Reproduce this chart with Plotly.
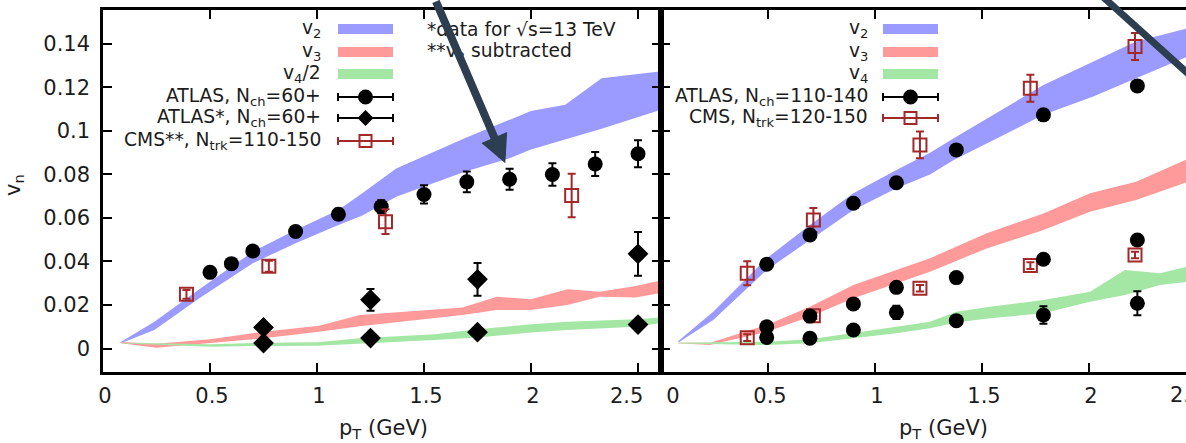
import plotly.graph_objects as go

W, H = 1186, 443

# ---------------- data: left panel ----------------
pt_v2L = [0.083, 0.24, 0.45, 0.70, 0.90, 1.10, 1.21, 1.37, 1.69, 1.90, 2.00, 2.16, 2.33, 2.60]
v2L_hi = [0.0030, 0.0123, 0.0272, 0.0445, 0.0545, 0.0637, 0.0712, 0.0828, 0.0966, 0.1050, 0.1092, 0.1120, 0.1242, 0.1273]
v2L_lo = [0.0024, 0.0085, 0.0231, 0.0392, 0.0484, 0.0568, 0.0610, 0.0698, 0.0813, 0.0874, 0.0915, 0.0962, 0.1010, 0.1095]

pt_v3L = [0.083, 0.25, 0.50, 0.75, 1.01, 1.20, 1.68, 1.84, 2.00, 2.17, 2.32, 2.49, 2.60]
v3L_hi = [0.0030, 0.0022, 0.0042, 0.0077, 0.0105, 0.0154, 0.0188, 0.0238, 0.0226, 0.0272, 0.0261, 0.0287, 0.0312]
v3L_lo = [0.0024, 0.0003, 0.0024, 0.0047, 0.0077, 0.0102, 0.0154, 0.0177, 0.0177, 0.0200, 0.0238, 0.0235, 0.0254]

pt_v4L = [0.083, 0.50, 0.745, 1.00, 1.20, 1.55, 1.75, 2.00, 2.17, 2.49, 2.60]
v4L_hi = [0.0027, 0.0020, 0.0026, 0.0029, 0.0047, 0.0065, 0.0088, 0.0111, 0.0123, 0.0134, 0.0143]
v4L_lo = [0.0024, 0.0008, 0.0012, 0.0013, 0.0021, 0.0039, 0.0051, 0.0073, 0.0085, 0.0100, 0.0116]

atlas_pt_L = [0.50, 0.60, 0.70, 0.90, 1.10, 1.30, 1.50, 1.70, 1.90, 2.10, 2.30, 2.50]
atlas_v2_L = [0.035, 0.039, 0.0448, 0.0538, 0.0617, 0.0652, 0.0708, 0.0766, 0.0778, 0.0800, 0.0848, 0.0895]
atlas_v2_L_err = [0.002, 0.002, 0.002, 0.002, 0.0025, 0.003, 0.0042, 0.0048, 0.0048, 0.0052, 0.0055, 0.0062]

atlas13_pt_L = [0.75, 1.25, 1.75, 2.50]
atlas13_v3_L = [0.0097, 0.0224, 0.0318, 0.0435]
atlas13_v3_L_err = [0.0015, 0.005, 0.0075, 0.010]
atlas13_v4_L = [0.0025, 0.0048, 0.0075, 0.0110]
atlas13_v4_L_err = [0.0008, 0.0008, 0.0008, 0.0008]

cms_pt_L = [0.39, 0.775, 1.32, 2.19]
cms_v2_L = [0.0249, 0.0378, 0.0583, 0.0703]
cms_v2_L_err = [0.002, 0.0025, 0.0057, 0.010]

# ---------------- data: right panel ----------------
pt_v2R = [0.081, 0.244, 0.494, 0.696, 0.899, 1.10, 1.257, 1.366, 1.787, 2.02, 2.22, 2.46]
v2R_hi = [0.0034, 0.0169, 0.0415, 0.0568, 0.0714, 0.0821, 0.0900, 0.0965, 0.1211, 0.1319, 0.1411, 0.1472]
v2R_lo = [0.0028, 0.0131, 0.0361, 0.0499, 0.0637, 0.0737, 0.0800, 0.0865, 0.1074, 0.1158, 0.1242, 0.1342]

pt_v3R = [0.081, 0.229, 0.494, 0.696, 0.899, 1.10, 1.257, 1.522, 1.787, 2.005, 2.22, 2.46]
v3R_hi = [0.0027, 0.0027, 0.0108, 0.0192, 0.0292, 0.0361, 0.0415, 0.0530, 0.0621, 0.0714, 0.0767, 0.0870]
v3R_lo = [0.0024, 0.0016, 0.0077, 0.0146, 0.0231, 0.0300, 0.0353, 0.0460, 0.0545, 0.0629, 0.0683, 0.0765]

pt_v4R = [0.081, 0.494, 0.696, 0.899, 1.10, 1.257, 1.38, 1.537, 1.787, 2.005, 2.168, 2.332, 2.46]
v4R_hi = [0.0026, 0.0031, 0.0042, 0.0070, 0.0100, 0.0123, 0.0169, 0.0192, 0.0223, 0.0261, 0.0361, 0.0346, 0.0376]
v4R_lo = [0.0023, 0.0016, 0.0024, 0.0047, 0.0070, 0.0093, 0.0119, 0.0139, 0.0162, 0.0215, 0.0246, 0.0292, 0.0307]

atlas_pt_R = [0.494, 0.696, 0.899, 1.10, 1.38, 1.787, 2.226]
atlas_v2_R = [0.0387, 0.0522, 0.0668, 0.0762, 0.0913, 0.1074, 0.1207]
atlas_v3_R = [0.0100, 0.0149, 0.0205, 0.0281, 0.0326, 0.0410, 0.0499]
atlas_v4_R = [0.0051, 0.0047, 0.0085, 0.0166, 0.0128, 0.0154, 0.0208]
atlas_v4_R_err = [0.001, 0.001, 0.001, 0.003, 0.002, 0.004, 0.0055]
atlas_small_err = [0.001] * 7

cms_pt_R = [0.403, 0.712, 1.21, 1.726, 2.215]
cms_v2_R = [0.0346, 0.0591, 0.0936, 0.1196, 0.1388]
cms_v2_R_err = [0.0055, 0.0055, 0.0062, 0.0062, 0.0062]
cms_v3_R = [0.0050, 0.0151, 0.0277, 0.0381, 0.0430]
cms_v3_R_err = [0.0015] * 5

x_ticks = [0, 0.5, 1, 1.5, 2, 2.5]
y_ticks = [0, 0.02, 0.04, 0.06, 0.08, 0.1, 0.12, 0.14]
y_ticktext = ["0", "0.02", "0.04", "0.06", "0.08", "0.1", "0.12", "0.14"]

# ---------------- styles ----------------
BLUE = "#9a9aff"
RED = "#ff9a9a"
GREEN = "#a4e6a4"
CMSRED = "#a3282a"
TXT = "#1c1c1c"
FONT = "DejaVu Sans"
FS = 21      # tick labels / axis titles
LFS = 18.7   # legend and notes
ARROW = "#2d3e50"


def px(x):
    return x / W


def py(y):
    return 1 - y / H


fig = go.Figure()


def band(pt, hi, lo, color, xa, ya):
    fig.add_trace(go.Scatter(
        x=list(pt) + list(pt)[::-1], y=list(hi) + list(lo)[::-1],
        fill="toself", fillcolor=color, line=dict(width=0), mode="lines",
        hoverinfo="skip", showlegend=False, xaxis=xa, yaxis=ya))


def points(pt, v, err, symbol, color, size, xa, ya, open_=False):
    marker = dict(symbol=symbol, size=size, color=color)
    if open_:
        marker["line"] = dict(color=color, width=2)
    fig.add_trace(go.Scatter(
        x=pt, y=v, mode="markers", marker=marker,
        error_y=dict(type="data", array=err, visible=True, color=color,
                     thickness=2, width=4),
        showlegend=False, xaxis=xa, yaxis=ya, cliponaxis=False))


# left panel
band(pt_v2L, v2L_hi, v2L_lo, BLUE, "x", "y")
band(pt_v3L, v3L_hi, v3L_lo, RED, "x", "y")
band(pt_v4L, v4L_hi, v4L_lo, GREEN, "x", "y")
points(atlas_pt_L, atlas_v2_L, atlas_v2_L_err, "circle", "black", 15, "x", "y")
points(atlas13_pt_L, atlas13_v3_L, atlas13_v3_L_err, "diamond", "black", 16, "x", "y")
points(atlas13_pt_L, atlas13_v4_L, atlas13_v4_L_err, "diamond", "black", 16, "x", "y")
points(cms_pt_L, cms_v2_L, cms_v2_L_err, "square-open", CMSRED, 13, "x", "y", open_=True)

# right panel
band(pt_v2R, v2R_hi, v2R_lo, BLUE, "x2", "y2")
band(pt_v3R, v3R_hi, v3R_lo, RED, "x2", "y2")
band(pt_v4R, v4R_hi, v4R_lo, GREEN, "x2", "y2")
points(cms_pt_R, cms_v2_R, cms_v2_R_err, "square-open", CMSRED, 13, "x2", "y2", open_=True)
points(cms_pt_R, cms_v3_R, cms_v3_R_err, "square-open", CMSRED, 13, "x2", "y2", open_=True)
points(atlas_pt_R, atlas_v2_R, atlas_small_err, "circle", "black", 15, "x2", "y2")
points(atlas_pt_R, atlas_v3_R, atlas_small_err, "circle", "black", 15, "x2", "y2")
points(atlas_pt_R, atlas_v4_R, atlas_v4_R_err, "circle", "black", 15, "x2", "y2")

# ---------------- axes ----------------
x0p, xmid, ytop, ybot = 103, 661, 10, 372
pxu = 214.0  # pixels per GeV
yr = [-0.0108, 0.1556]
nb = "\u00a0"

axis_common = dict(showgrid=False, zeroline=False, showline=True, linecolor="black",
                   linewidth=2.5, ticks="inside", ticklen=9, tickwidth=2,
                   tickcolor="black", automargin=False,
                   tickfont=dict(family=FONT, size=FS, color=TXT))

fig.update_layout(
    xaxis=dict(domain=[px(x0p), px(xmid)], range=[0, (xmid - x0p) / pxu], anchor="y",
               tickvals=x_ticks,
               ticktext=["0", "0.5", "1", "1.5", "2", "2.5" + nb * 4],
               mirror="ticks", ticklabelshift=2, ticklabelstandoff=3, **axis_common),
    yaxis=dict(domain=[py(ybot), py(ytop)], range=yr, anchor="x",
               tickvals=y_ticks, ticktext=y_ticktext, mirror="ticks",
               ticklabelstandoff=6, **axis_common),
    xaxis2=dict(domain=[px(xmid), 1.0], range=[0, (W - xmid) / pxu], anchor="y2",
                tickvals=x_ticks,
                ticktext=[nb * 3 + "0", "0.5", "1", "1.5", "2", "2.5"],
                mirror="ticks", ticklabelshift=2, ticklabelstandoff=3, **axis_common),
    yaxis2=dict(domain=[py(ybot), py(ytop)], range=yr, anchor="x2",
                tickvals=y_ticks, showticklabels=False, mirror=False, **axis_common),
    width=W, height=H, margin=dict(l=0, r=0, t=0, b=0, autoexpand=False),
    plot_bgcolor="white", paper_bgcolor="white", showlegend=False,
)

ann = []
shapes = []


def text(x, y, s, anchor="right", size=LFS, **kw):
    ann.append(dict(x=px(x), y=py(y), xref="paper", yref="paper", text=s,
                    showarrow=False, xanchor=anchor, yanchor="middle",
                    font=dict(family=FONT, size=size, color=TXT), **kw))


# axis titles
text(383, 429, "p<sub>T</sub> (GeV)", anchor="center", size=FS)
text(943, 429, "p<sub>T</sub> (GeV)", anchor="center", size=FS)
text(14, 185, "v<sub>n</sub>", anchor="center", size=FS, textangle=-90)
# partially visible tick label of the right panel (cut by the picture edge)
text(1168, 395, "2.5", anchor="left", size=FS)

# notes
text(425, 30, "*data for \u221as=13 TeV", anchor="left")
text(425, 52, "**v<sub>2</sub> subtracted", anchor="left")


def legend_band(xr, y, color):
    shapes.append(dict(type="rect", xref="paper", yref="paper", x0=px(xr[0]), x1=px(xr[1]),
                       y0=py(y + 5), y1=py(y - 5), fillcolor=color, line=dict(width=0),
                       layer="above"))


def legend_err(xr, y, color, kind):
    shapes.append(dict(type="line", xref="paper", yref="paper", x0=px(xr[0]), x1=px(xr[1]),
                       y0=py(y), y1=py(y), line=dict(color=color, width=2), layer="above"))
    for xe in xr:
        shapes.append(dict(type="line", xref="paper", yref="paper", x0=px(xe), x1=px(xe),
                           y0=py(y - 4), y1=py(y + 4), line=dict(color=color, width=2),
                           layer="above"))
    xc = (xr[0] + xr[1]) / 2
    base = dict(xref="paper", yref="paper", xsizemode="pixel", ysizemode="pixel",
                xanchor=px(xc), yanchor=py(y), layer="above")
    if kind == "circle":
        shapes.append(dict(type="circle", x0=-7.5, x1=7.5, y0=-7.5, y1=7.5,
                           fillcolor=color, line=dict(width=0), **base))
    elif kind == "diamond":
        shapes.append(dict(type="path", path="M 0 8 L 8 0 L 0 -8 L -8 0 Z",
                           fillcolor=color, line=dict(width=0), **base))
    else:
        shapes.append(dict(type="rect", x0=-6, x1=6, y0=-6, y1=6,
                           fillcolor="rgba(0,0,0,0)", line=dict(color=color, width=2), **base))


# left legend
LX = (338, 393)
rowsL = [29, 52, 74, 97, 118, 141]
text(323, rowsL[0], "v<sub>2</sub>")
text(323, rowsL[1], "v<sub>3</sub>")
text(323, rowsL[2], "v<sub>4</sub>/2")
text(323, rowsL[3], "ATLAS, N<sub>ch</sub>=60+")
text(323, rowsL[4], "ATLAS*, N<sub>ch</sub>=60+")
text(323, rowsL[5], "CMS**, N<sub>trk</sub>=110-150")
legend_band(LX, rowsL[0], BLUE)
legend_band(LX, rowsL[1], RED)
legend_band(LX, rowsL[2], GREEN)
legend_err(LX, rowsL[3], "black", "circle")
legend_err(LX, rowsL[4], "black", "diamond")
legend_err(LX, rowsL[5], CMSRED, "square")

# right legend
RX = (883, 938)
rowsR = [29, 52, 74, 97, 118]
text(870, rowsR[0], "v<sub>2</sub>")
text(870, rowsR[1], "v<sub>3</sub>")
text(870, rowsR[2], "v<sub>4</sub>")
text(870, rowsR[3], "ATLAS, N<sub>ch</sub>=110-140")
text(870, rowsR[4], "CMS, N<sub>trk</sub>=120-150")
legend_band(RX, rowsR[0], BLUE)
legend_band(RX, rowsR[1], RED)
legend_band(RX, rowsR[2], GREEN)
legend_err(RX, rowsR[3], "black", "circle")
legend_err(RX, rowsR[4], CMSRED, "square")

# arrows
ann.append(dict(x=1.88, y=0.0852, xref="x", yref="y", ax=-70, ay=-168, axref="pixel",
                ayref="pixel", text="", showarrow=True, arrowhead=2, arrowsize=0.7,
                arrowwidth=8, arrowcolor=ARROW, standoff=0))
shapes.append(dict(type="line", xref="paper", yref="paper", x0=px(1102), y0=py(-4),
                   x1=px(1215), y1=py(98), line=dict(color=ARROW, width=7), layer="above"))

fig.update_layout(annotations=ann, shapes=shapes)
fig.write_html("out.html", config={"displayModeBar": False},
               post_script="document.body.style.margin='0';document.body.style.overflow='hidden';")
